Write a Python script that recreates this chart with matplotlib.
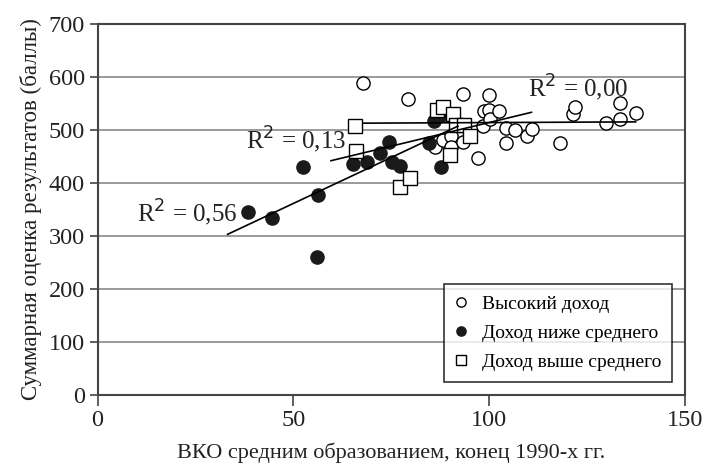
import numpy as np
import matplotlib.pyplot as plt

plt.rcParams['font.family'] = ['Liberation Serif', 'DejaVu Serif']

# высокий доход
high_x = [67.8, 79.3, 86.1, 88.1, 90.3, 90.3, 93.3, 93.3, 97.1, 98.3, 98.7, 100.0, 100.0, 100.1,
          102.6, 104.4, 104.4, 106.7, 109.6, 111.0, 118.0, 121.4, 122.0, 129.8, 133.3, 133.3, 137.4]
high_y = [588, 558, 467, 482, 488, 468, 477, 568, 448, 508, 535, 538, 566, 520,
          535, 504, 476, 500, 488, 501, 476, 530, 544, 514, 550, 520, 533]

# доход ниже среднего
low_x = [38.5, 44.5, 52.4, 56.2, 56.0, 65.2, 68.7, 72.2, 74.4, 75.1, 77.2, 84.6, 85.8, 87.6, 87.8]
low_y = [345, 333, 430, 378, 261, 436, 440, 456, 477, 440, 433, 476, 517, 430, 528]

# доход выше среднего
mid_x = [65.7, 66.1, 77.2, 79.7, 86.8, 88.1, 89.9, 90.7, 91.5, 93.5, 95.2]
mid_y = [508, 460, 392, 409, 537, 544, 453, 530, 510, 510, 489]

# пределы линий тренда
low_range = [33.2, 92.0]
mid_range = [59.6, 110.8]
high_range = [67.8, 137.4]

r2_labels = ['R$^2$ = 0,56', 'R$^2$ = 0,13', 'R$^2$ = 0,00']
r2_pos = [(10, 343), (38.0, 481), (110, 580)]

fig = plt.figure(figsize=(7.14, 4.66), dpi=100)
ax = fig.add_axes([0.1366, 0.1524, 0.8228, 0.7961])

for v in range(100, 700, 100):
    ax.axhline(v, color='#9a9a9a', lw=1.4, zorder=0)

ms = 9.5
ax.plot(high_x, high_y, 'o', mfc='white', mec='black', mew=1.0, ms=ms, ls='none',
        label='Высокий доход', zorder=3)
ax.plot(low_x, low_y, 'o', mfc='#1a1a1a', mec='#1a1a1a', mew=1.0, ms=ms, ls='none',
        label='Доход ниже среднего', zorder=3)
ax.plot(mid_x, mid_y, 's', mfc='white', mec='black', mew=1.0, ms=ms, ls='none',
        label='Доход выше среднего', zorder=4)

# линейные тренды
for xs, ys, rng in [(low_x, low_y, low_range), (mid_x, mid_y, mid_range), (high_x, high_y, high_range)]:
    k, b = np.polyfit(xs, ys, 1)
    xx = np.array(rng)
    ax.plot(xx, k * xx + b, color='black', lw=1.2, zorder=5)

for txt, (tx, ty) in zip(r2_labels, r2_pos):
    ax.text(tx, ty, txt, fontsize=18, va='center', ha='left', color='#222222', zorder=6)

ax.set_xlim(0, 150)
ax.set_ylim(0, 700)
ax.set_xticks([0, 50, 100, 150])
ax.set_yticks(range(0, 800, 100))
ax.tick_params(axis='both', labelsize=17.5, colors='#222222')
ax.tick_params(axis='x', direction='out', length=8, width=1.2, color='#444444', pad=3)
ax.tick_params(axis='y', direction='out', length=6, width=1.2, color='#444444', pad=3)
for s in ax.spines.values():
    s.set_color('#444444')
    s.set_linewidth(1.5)

ax.set_xlabel('ВКО средним образованием, конец 1990-х гг.', fontsize=16, color='#222222', labelpad=8)
ax.set_ylabel('Суммарная оценка результатов (баллы)', fontsize=16.5, color='#222222', labelpad=5)

leg = ax.legend(loc='lower right', bbox_to_anchor=(0.978, 0.035), borderaxespad=0, fontsize=14,
                frameon=True, fancybox=False, edgecolor='black', markerscale=0.7, handlelength=0.6,
                handletextpad=0.8, borderpad=0.55, labelspacing=0.6)
leg.get_frame().set_linewidth(1.2)
leg.set_zorder(10)

fig.savefig('out.png', dpi=100, facecolor='white')
